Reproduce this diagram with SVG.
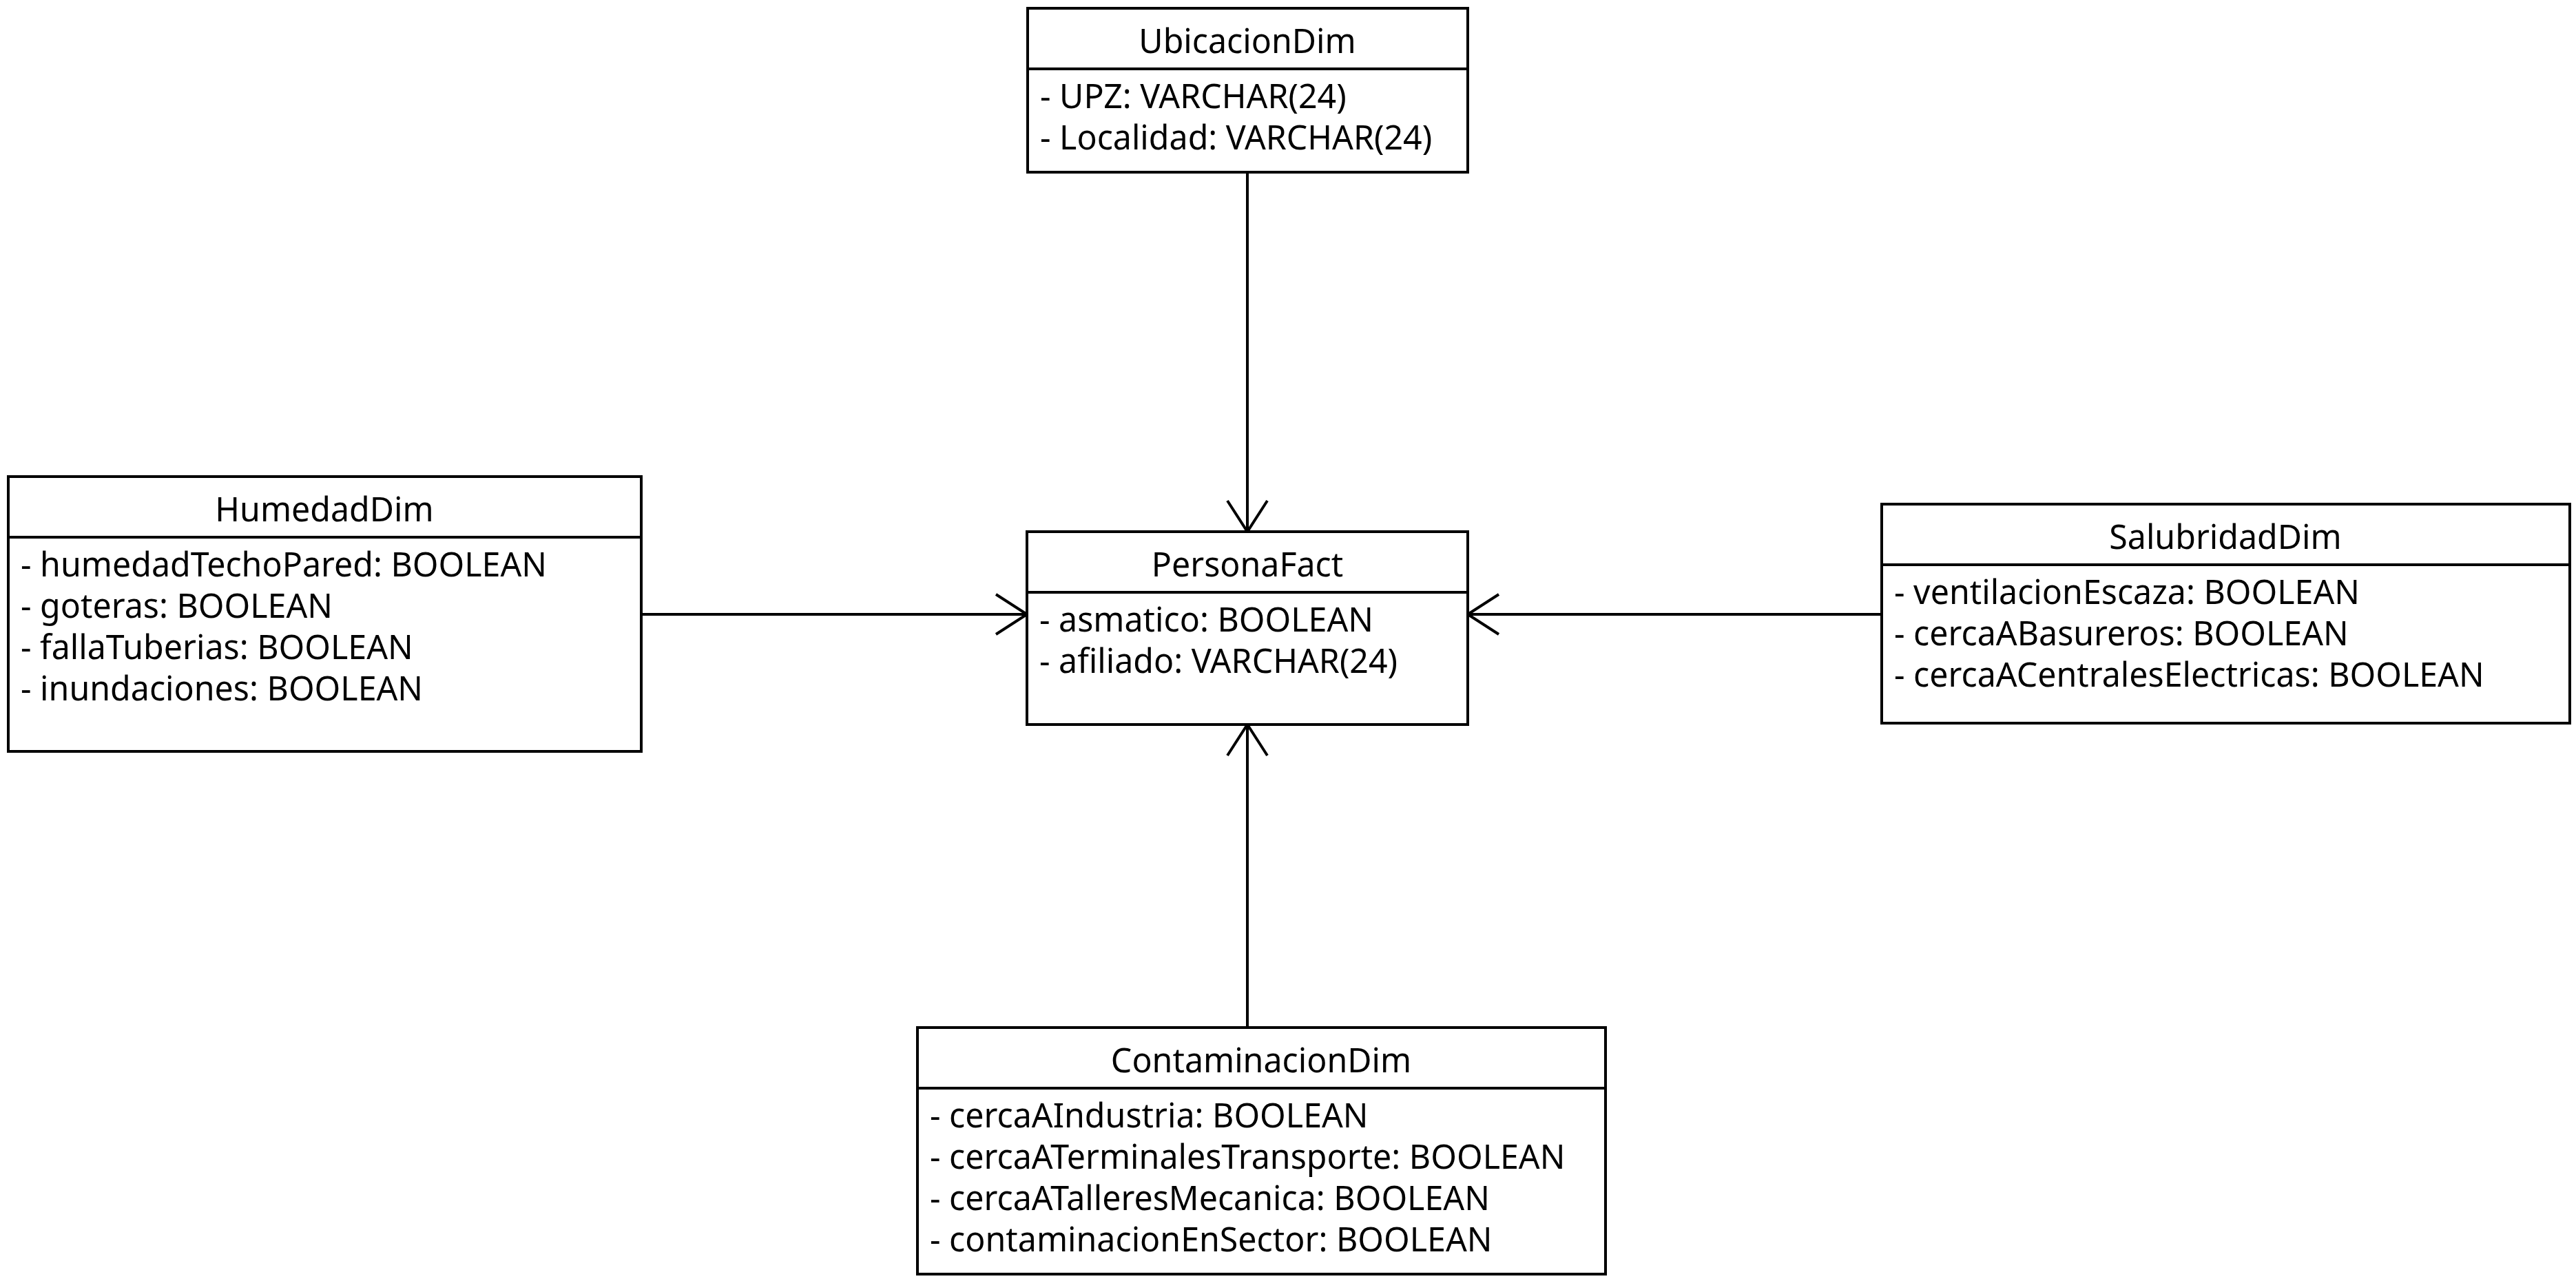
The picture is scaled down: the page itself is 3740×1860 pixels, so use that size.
<svg xmlns="http://www.w3.org/2000/svg" width="3740" height="1860" viewBox="0 0 3740 1860">
<style>
.box{fill:#fff;stroke:#000;stroke-width:4}
.div{stroke:#000;stroke-width:4}
.t{font-family:"Noto Sans","Open Sans","DejaVu Sans",sans-serif;font-size:48.3px;fill:#000}
.title{text-anchor:middle}
.conn{stroke:#000;stroke-width:4;fill:none}
</style>
<defs>
<marker id="open" markerUnits="userSpaceOnUse" markerWidth="70" markerHeight="80" viewBox="-55 -40 70 80" refX="0" refY="0" orient="auto" overflow="visible">
<path d="M-45,-29 L0,0 L-45,29" fill="none" stroke="#000" stroke-width="4" stroke-linejoin="miter"/>
</marker>
</defs>
<rect width="3740" height="1860" fill="#fff"/>
<g id="connectors">
<line class="conn" x1="1811" y1="250" x2="1811" y2="772" marker-end="url(#open)"/>
<line class="conn" x1="931" y1="892" x2="1491" y2="892" marker-end="url(#open)"/>
<line class="conn" x1="2732" y1="892" x2="2131" y2="892" marker-end="url(#open)"/>
<line class="conn" x1="1811" y1="1492" x2="1811" y2="1052" marker-end="url(#open)"/>
</g>
<g id="UbicacionDim">
<rect class="box" x="1492" y="12" width="639" height="238"/>
<line class="div" x1="1492" y1="100" x2="2131" y2="100"/>
<text class="t title" x="1811" y="77">UbicacionDim</text>
<text class="t" x="1510" y="157">- UPZ: VARCHAR(24)</text>
<text class="t" x="1510" y="217">- Localidad: VARCHAR(24)</text>
</g>
<g id="PersonaFact">
<rect class="box" x="1491" y="772" width="640" height="280"/>
<line class="div" x1="1491" y1="860" x2="2131" y2="860"/>
<text class="t title" x="1811" y="837">PersonaFact</text>
<text class="t" x="1509" y="917">- asmatico: BOOLEAN</text>
<text class="t" x="1509" y="977">- afiliado: VARCHAR(24)</text>
</g>
<g id="HumedadDim">
<rect class="box" x="12" y="692" width="919" height="399"/>
<line class="div" x1="12" y1="780" x2="931" y2="780"/>
<text class="t title" x="471" y="757">HumedadDim</text>
<text class="t" x="30" y="837">- humedadTechoPared: BOOLEAN</text>
<text class="t" x="30" y="897">- goteras: BOOLEAN</text>
<text class="t" x="30" y="957">- fallaTuberias: BOOLEAN</text>
<text class="t" x="30" y="1017">- inundaciones: BOOLEAN</text>
</g>
<g id="SalubridadDim">
<rect class="box" x="2732" y="732" width="999" height="318"/>
<line class="div" x1="2732" y1="820" x2="3731" y2="820"/>
<text class="t title" x="3231" y="797">SalubridadDim</text>
<text class="t" x="2750" y="877">- ventilacionEscaza: BOOLEAN</text>
<text class="t" x="2750" y="937">- cercaABasureros: BOOLEAN</text>
<text class="t" x="2750" y="997">- cercaACentralesElectricas: BOOLEAN</text>
</g>
<g id="ContaminacionDim">
<rect class="box" x="1332" y="1492" width="999" height="358"/>
<line class="div" x1="1332" y1="1580" x2="2331" y2="1580"/>
<text class="t title" x="1831" y="1557">ContaminacionDim</text>
<text class="t" x="1350" y="1637">- cercaAIndustria: BOOLEAN</text>
<text class="t" x="1350" y="1697">- cercaATerminalesTransporte: BOOLEAN</text>
<text class="t" x="1350" y="1757">- cercaATalleresMecanica: BOOLEAN</text>
<text class="t" x="1350" y="1817">- contaminacionEnSector: BOOLEAN</text>
</g>
</svg>
